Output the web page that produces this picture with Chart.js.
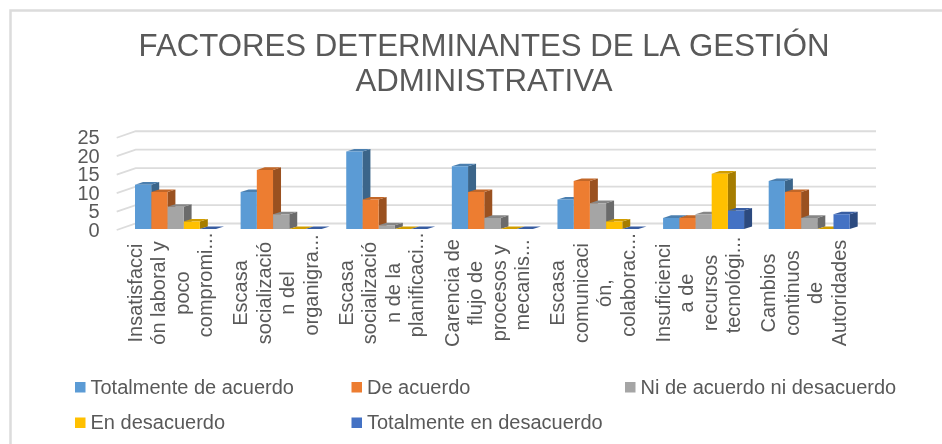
<!DOCTYPE html>
<html>
<head>
<meta charset="utf-8">
<script src="https://cdn.jsdelivr.net/npm/chart.js@4"></script>
<style>
  html, body { margin: 0; padding: 0; background: #fff; }
  canvas { display: block; }
</style>
</head>
<body>
<canvas id="chart" width="942" height="444"></canvas>
<script>
const categories = [
  ['Insatisfacci', 'ón laboral y', 'poco', 'compromi...'],
  ['Escasa', 'socializació', 'n del', 'organigra...'],
  ['Escasa', 'socializació', 'n de la', 'planificaci...'],
  ['Carencia de', 'flujo de', 'procesos y', 'mecanis...'],
  ['Escasa', 'comunicaci', 'ón,', 'colaborac...'],
  ['Insuficienci', 'a de', 'recursos', 'tecnológi...'],
  ['Cambios', 'continuos', 'de', 'Autoridades']
]
const totalmenteAcuerdo = [12, 10, 21, 17, 8, 3, 13]
const deAcuerdo = [10, 16, 8, 10, 13, 3, 10]
const niNi = [6, 4, 1, 3, 7, 4, 3]
const enDesacuerdo = [2, 0, 0, 0, 2, 15, 0]
const totalmenteDesacuerdo = [0, 0, 0, 0, 0, 5, 4]
const titleLines = ['FACTORES DETERMINANTES DE LA GESTIÓN', 'ADMINISTRATIVA']

const textColor = '#595959'
const fontFamily = '"Liberation Sans", Arial, sans-serif'

// darken a hex colour for the side and top faces of the 3D bars
function shade(hex, k) {
  const n = parseInt(hex.slice(1), 16)
  const r = Math.round((n >> 16 & 255) * k)
  const g = Math.round((n >> 8 & 255) * k)
  const b = Math.round((n & 255) * k)
  return `rgb(${r}, ${g}, ${b})`
}

function poly(ctx, pts, fill) {
  ctx.beginPath()
  pts.forEach((p, i) => i ? ctx.lineTo(p[0], p[1]) : ctx.moveTo(p[0], p[1]))
  ctx.closePath()
  ctx.fillStyle = fill
  ctx.fill()
}

// frame, back wall grid lines and the faces behind the bars
const depthPlugin = {
  id: 'depth',
  beforeDatasetsDraw(chart) {
    const { ctx, chartArea, scales } = chart
    ctx.save()

    ctx.strokeStyle = '#DCDCDC'
    ctx.lineWidth = 2.5
    ctx.beginPath()
    ctx.moveTo(10.5, 444)
    ctx.lineTo(10.5, 10.5)
    ctx.lineTo(942, 10.5)
    ctx.stroke()

    ctx.lineWidth = 1.8
    scales.y.ticks.forEach(t => {
      const y = scales.y.getPixelForValue(t.value)
      ctx.beginPath()
      ctx.moveTo(chartArea.left - 6, y + 1)
      ctx.lineTo(chartArea.left + 13, y - 5.5)
      ctx.lineTo(876, y - 5.5)
      ctx.stroke()
    })

    const dx = 8
    const dy = 2.6
    for (let c = 0; c < categories.length; c++) {
      chart.data.datasets.forEach((ds, i) => {
        const el = chart.getDatasetMeta(i).data[c]
        const x1 = el.x - el.width / 2
        const x2 = el.x + el.width / 2
        poly(ctx, [[x2, el.y], [x2 + dx, el.y - dy], [x2 + dx, el.base - dy], [x2, el.base]], shade(ds.backgroundColor, 0.65))
        poly(ctx, [[x1, el.y], [x1 + dx, el.y - dy], [x2 + dx, el.y - dy], [x2, el.y]], shade(ds.backgroundColor, 0.82))
      })
    }
    ctx.restore()
  },
  afterDraw(chart) {
    const { ctx, scales } = chart
    ctx.save()
    ctx.fillStyle = textColor
    ctx.font = '20px ' + fontFamily

    // category labels, rotated and centred on each line
    ctx.textAlign = 'center'
    ctx.textBaseline = 'alphabetic'
    categories.forEach((lines, c) => {
      const px = scales.x.getPixelForTick(c)
      lines.forEach((line, j) => {
        ctx.save()
        ctx.translate(px + (j - 1.5) * 23.5 + 1.5, line.endsWith('...') ? 285 : 293)
        ctx.rotate(-Math.PI / 2)
        ctx.fillText(line, 0, 0)
        ctx.restore()
      })
    })

    // legend in columns
    const columns = [75, 351.5, 625]
    const rows = [387, 422.5]
    ctx.textAlign = 'left'
    ctx.textBaseline = 'middle'
    chart.data.datasets.forEach((ds, i) => {
      const x = columns[i % 3]
      const y = rows[Math.floor(i / 3)]
      ctx.fillStyle = ds.backgroundColor
      ctx.fillRect(x, y - 5, 10.5, 10.5)
      ctx.fillStyle = textColor
      ctx.fillText(ds.label, x + 15.5, y + 1)
    })
    ctx.restore()
  }
}

const series = [
  ['Totalmente de acuerdo', totalmenteAcuerdo, '#5B9BD5'],
  ['De acuerdo', deAcuerdo, '#ED7D31'],
  ['Ni de acuerdo ni desacuerdo', niNi, '#A5A5A5'],
  ['En desacuerdo', enDesacuerdo, '#FFC000'],
  ['Totalmente en desacuerdo', totalmenteDesacuerdo, '#4472C4']
]

new Chart(document.getElementById('chart'), {
  type: 'bar',
  data: {
    labels: categories,
    datasets: series.map(s => ({ label: s[0], data: s[1], backgroundColor: s[2] }))
  },
  plugins: [depthPlugin],
  options: {
    responsive: false,
    animation: false,
    categoryPercentage: 0.767,
    barPercentage: 1,
    // left padding puts the title centre at x=484
    layout: { padding: { left: 26, right: 0, top: 0, bottom: 0 } },
    plugins: {
      legend: { display: false },
      tooltip: { enabled: false },
      title: {
        display: true,
        text: titleLines,
        color: textColor,
        font: { family: fontFamily, size: 31.2, weight: 'normal', lineHeight: 1.15 },
        padding: { top: 29, bottom: 36 }
      }
    },
    scales: {
      x: {
        grid: { display: false },
        border: { display: false },
        ticks: { display: false },
        afterFit(scale) { scale.height = 215 }
      },
      y: {
        min: 0,
        max: 25,
        grid: { display: false, drawTicks: false },
        border: { display: false },
        ticks: {
          stepSize: 5,
          autoSkip: false,
          padding: 23,
          labelOffset: 2,
          color: textColor,
          font: { family: fontFamily, size: 20 }
        },
        afterFit(scale) { scale.width = 96.7 }
      },
      // empty axis, only keeps the plot clear of the right margin
      spacer: {
        position: 'right',
        grid: { display: false },
        border: { display: false },
        ticks: { display: false },
        afterFit(scale) { scale.width = 80 }
      }
    }
  }
})
</script>
</body>
</html>
